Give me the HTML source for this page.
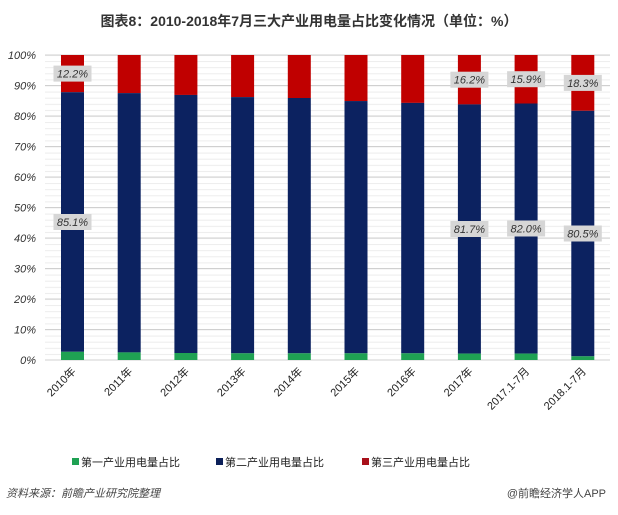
<!DOCTYPE html>
<html><head><meta charset="utf-8"><style>
html,body{margin:0;padding:0;background:#fff;}
svg{display:block;font-family:"Liberation Sans","Noto Sans CJK SC",sans-serif;}
</style></head><body>
<svg width="618" height="515" viewBox="0 0 618 515" xmlns="http://www.w3.org/2000/svg">
<defs>
<pattern id="mg" patternUnits="userSpaceOnUse" x="0" y="55" width="10" height="6.1">
<rect x="0" y="0" width="10" height="1" fill="#ececec"/>
</pattern>
</defs>
<text x="309" y="26" text-anchor="middle" font-size="14" font-weight="bold" fill="#333">图表8：2010-2018年7月三大产业用电量占比变化情况（单位：%）</text>
<rect x="45" y="54.5" width="565" height="306" fill="url(#mg)"/>
<g stroke="#d0d0d0" stroke-width="1">
<line x1="45" x2="610" y1="360" y2="360"/><line x1="45" x2="610" y1="329.5" y2="329.5"/><line x1="45" x2="610" y1="299" y2="299"/><line x1="45" x2="610" y1="268.5" y2="268.5"/><line x1="45" x2="610" y1="238" y2="238"/><line x1="45" x2="610" y1="207.5" y2="207.5"/><line x1="45" x2="610" y1="177" y2="177"/><line x1="45" x2="610" y1="146.5" y2="146.5"/><line x1="45" x2="610" y1="116" y2="116"/><line x1="45" x2="610" y1="85.5" y2="85.5"/><line x1="45" x2="610" y1="55" y2="55"/>
</g>
<g font-size="11" font-style="italic" fill="#333" text-anchor="end">
<text x="36" y="364">0%</text><text x="36" y="333.5">10%</text><text x="36" y="303">20%</text><text x="36" y="272.5">30%</text><text x="36" y="242">40%</text><text x="36" y="211.5">50%</text><text x="36" y="181">60%</text><text x="36" y="150.5">70%</text><text x="36" y="120">80%</text><text x="36" y="89.5">90%</text><text x="36" y="59">100%</text>
</g>
<g>
<rect x="61" y="55" width="23" height="37.2" fill="#c00000"/><rect x="61" y="92.2" width="23" height="259.6" fill="#0c2260"/><rect x="61" y="351.8" width="23" height="8.2" fill="#1fa153"/>
<rect x="117.7" y="55" width="23" height="38.1" fill="#c00000"/><rect x="117.7" y="93.1" width="23" height="259.3" fill="#0c2260"/><rect x="117.7" y="352.4" width="23" height="7.6" fill="#1fa153"/>
<rect x="174.4" y="55" width="23" height="39.95" fill="#c00000"/><rect x="174.4" y="94.95" width="23" height="258.05" fill="#0c2260"/><rect x="174.4" y="353" width="23" height="7" fill="#1fa153"/>
<rect x="231.1" y="55" width="23" height="42.1" fill="#c00000"/><rect x="231.1" y="97.1" width="23" height="256.2" fill="#0c2260"/><rect x="231.1" y="353.3" width="23" height="6.7" fill="#1fa153"/>
<rect x="287.8" y="55" width="23" height="43" fill="#c00000"/><rect x="287.8" y="98" width="23" height="255.3" fill="#0c2260"/><rect x="287.8" y="353.3" width="23" height="6.7" fill="#1fa153"/>
<rect x="344.5" y="55" width="23" height="46.05" fill="#c00000"/><rect x="344.5" y="101.05" width="23" height="252.25" fill="#0c2260"/><rect x="344.5" y="353.3" width="23" height="6.7" fill="#1fa153"/>
<rect x="401.2" y="55" width="23" height="47.9" fill="#c00000"/><rect x="401.2" y="102.9" width="23" height="250.4" fill="#0c2260"/><rect x="401.2" y="353.3" width="23" height="6.7" fill="#1fa153"/>
<rect x="457.9" y="55" width="23" height="49.4" fill="#c00000"/><rect x="457.9" y="104.4" width="23" height="249.2" fill="#0c2260"/><rect x="457.9" y="353.6" width="23" height="6.4" fill="#1fa153"/>
<rect x="514.6" y="55" width="23" height="48.5" fill="#c00000"/><rect x="514.6" y="103.5" width="23" height="250.1" fill="#0c2260"/><rect x="514.6" y="353.6" width="23" height="6.4" fill="#1fa153"/>
<rect x="571.3" y="55" width="23" height="55.8" fill="#c00000"/><rect x="571.3" y="110.8" width="23" height="245.5" fill="#0c2260"/><rect x="571.3" y="356.3" width="23" height="3.7" fill="#1fa153"/>
</g>
<g fill="#d6d6d6">
<rect x="53.5" y="65.6" width="38" height="16"/><rect x="53.5" y="214" width="38" height="16"/>
<rect x="450.4" y="71.7" width="38" height="16"/><rect x="450.4" y="221" width="38" height="16"/>
<rect x="507.1" y="71.2" width="38" height="16"/><rect x="507.1" y="220.5" width="38" height="16"/>
<rect x="563.8" y="74.9" width="38" height="16"/><rect x="563.8" y="225.5" width="38" height="16"/>
</g>
<g font-size="11" font-style="italic" fill="#333" text-anchor="middle">
<text x="72.5" y="77.6">12.2%</text><text x="72.5" y="226">85.1%</text>
<text x="469.4" y="83.7">16.2%</text><text x="469.4" y="233">81.7%</text>
<text x="526.1" y="83.2">15.9%</text><text x="526.1" y="232.5">82.0%</text>
<text x="582.8" y="86.9">18.3%</text><text x="582.8" y="237.5">80.5%</text>
</g>
<g font-size="11" fill="#222" text-anchor="end">
<text x="76.5" y="372" transform="rotate(-45 76.5 372)">2010年</text>
<text x="133.2" y="372" transform="rotate(-45 133.2 372)">2011年</text>
<text x="189.9" y="372" transform="rotate(-45 189.9 372)">2012年</text>
<text x="246.6" y="372" transform="rotate(-45 246.6 372)">2013年</text>
<text x="303.3" y="372" transform="rotate(-45 303.3 372)">2014年</text>
<text x="360" y="372" transform="rotate(-45 360 372)">2015年</text>
<text x="416.7" y="372" transform="rotate(-45 416.7 372)">2016年</text>
<text x="473.4" y="372" transform="rotate(-45 473.4 372)">2017年</text>
<text x="530.1" y="372" transform="rotate(-45 530.1 372)">2017.1-7月</text>
<text x="586.8" y="372" transform="rotate(-45 586.8 372)">2018.1-7月</text>
</g>
<g font-size="11" fill="#222">
<rect x="72" y="458" width="7" height="7" fill="#1fa153"/><text x="81" y="466">第一产业用电量占比</text>
<rect x="216" y="458" width="7" height="7" fill="#0c2059"/><text x="225" y="466">第二产业用电量占比</text>
<rect x="362" y="458" width="7" height="7" fill="#a8101a"/><text x="371" y="466">第三产业用电量占比</text>
</g>
<text x="6" y="497" font-size="11" font-style="italic" fill="#444">资料来源：前瞻产业研究院整理</text>
<text x="606" y="497" font-size="11" text-anchor="end" fill="#444">@前瞻经济学人APP</text>
</svg>
</body></html>
